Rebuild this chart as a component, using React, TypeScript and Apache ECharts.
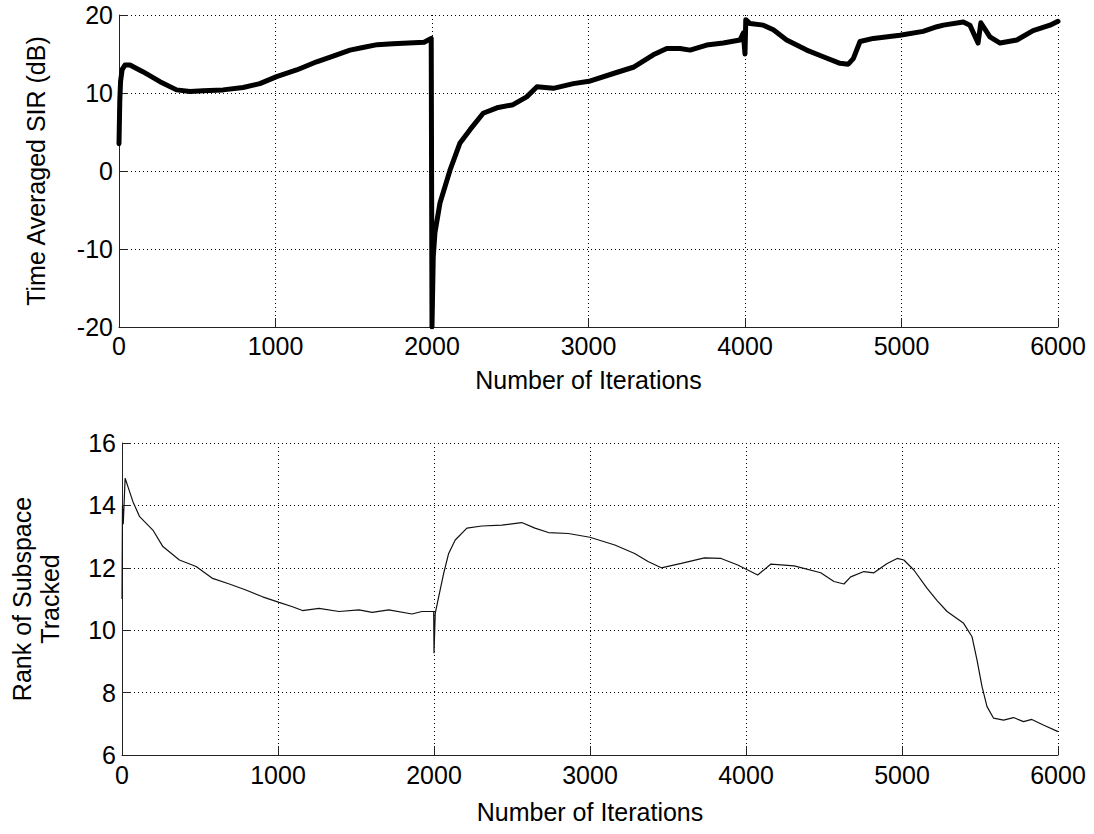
import React, { useEffect, useRef } from "react";
import * as echarts from "echarts";

// Top panel: time averaged SIR (dB) vs iteration (band centre)
const sirIter = [0, 5, 10, 20, 38, 70, 155, 262, 368, 454, 537, 665, 793, 900, 1007, 1135, 1263, 1391, 1476, 1550, 1650, 1750, 1850, 1950, 1995, 2000, 2004, 2008, 2019, 2051, 2115, 2179, 2243, 2327, 2415, 2518, 2605, 2671, 2775, 2903, 3003, 3159, 3286, 3414, 3500, 3585, 3649, 3755, 3861, 3968, 3989, 4000, 4005, 4032, 4117, 4181, 4266, 4394, 4500, 4607, 4660, 4692, 4735, 4820, 4990, 5138, 5227, 5268, 5395, 5437, 5489, 5507, 5565, 5630, 5737, 5841, 5949, 6000];
const sirValue = [3.5, 9, 11.5, 13, 13.6, 13.6, 12.7, 11.45, 10.4, 10.2, 10.3, 10.4, 10.7, 11.2, 12.1, 12.95, 14.0, 14.9, 15.5, 15.8, 16.2, 16.3, 16.4, 16.5, 17.0, -20, -15.4, -11, -7.9, -4.1, 0.1, 3.6, 5.3, 7.4, 8.1, 8.5, 9.5, 10.8, 10.6, 11.2, 11.5, 12.5, 13.3, 14.9, 15.7, 15.7, 15.5, 16.15, 16.4, 16.8, 17.7, 15, 19.4, 18.9, 18.7, 18.1, 16.8, 15.5, 14.65, 13.8, 13.7, 14.4, 16.6, 17.0, 17.4, 17.9, 18.5, 18.7, 19.1, 18.7, 16.4, 19.0, 17.2, 16.4, 16.8, 18.0, 18.7, 19.2];

// Bottom panel: rank of subspace tracked vs iteration
const rankIter = [0, 3, 8, 20, 38, 70, 113, 198, 262, 368, 475, 581, 688, 794, 901, 1007, 1093, 1157, 1263, 1391, 1519, 1604, 1710, 1859, 1923, 1998, 2000, 2008, 2030, 2062, 2094, 2136, 2211, 2307, 2435, 2562, 2647, 2733, 2861, 2999, 3159, 3286, 3372, 3457, 3585, 3734, 3840, 3947, 4075, 4160, 4309, 4479, 4564, 4628, 4671, 4756, 4820, 4905, 4969, 5012, 5076, 5161, 5225, 5289, 5395, 5449, 5481, 5513, 5545, 5587, 5651, 5715, 5779, 5832, 5906, 6000];
const rankValue = [11.0, 14.0, 13.4, 14.87, 14.6, 14.12, 13.64, 13.21, 12.68, 12.25, 12.04, 11.66, 11.48, 11.29, 11.07, 10.89, 10.75, 10.63, 10.70, 10.6, 10.65, 10.57, 10.65, 10.52, 10.6, 10.6, 9.26, 10.54, 11.07, 11.82, 12.46, 12.89, 13.27, 13.34, 13.37, 13.45, 13.27, 13.13, 13.1, 12.98, 12.73, 12.46, 12.2, 12.0, 12.14, 12.32, 12.3, 12.09, 11.77, 12.12, 12.06, 11.84, 11.56, 11.48, 11.71, 11.88, 11.84, 12.14, 12.3, 12.25, 11.93, 11.34, 10.95, 10.6, 10.22, 9.79, 9.04, 8.19, 7.55, 7.18, 7.12, 7.2, 7.07, 7.14, 6.96, 6.75];

const xTitle = "Number of Iterations";
const topYTitle = "Time Averaged SIR (dB)";
const bottomYTitle = "Rank of Subspace\nTracked";

const FONT = "'Liberation Sans', Arial, sans-serif";

export default function App() {
  const ref = useRef<HTMLDivElement>(null);
  useEffect(() => {
    document.body.style.margin = "0";
    if (!ref.current) return;
    const chart = echarts.init(ref.current, null, { renderer: "svg" });
    const axisLine = { show: true, onZero: false, lineStyle: { color: "#222", width: 1 } };
    const axisTick = { show: true, inside: true, length: 9, lineStyle: { color: "#222", width: 1 } };
    const splitLine = { show: true, lineStyle: { color: "#000", width: 1, type: [1, 3] as any } };
    const label = { color: "#000", fontSize: 25, fontFamily: FONT, formatter: (v: number) => String(v) };
    const nameStyle = { color: "#000", fontSize: 25, fontFamily: FONT };
    const xBase = (gi: number, gap: number, lm: number) => ({
      type: "value",
      gridIndex: gi,
      min: 0,
      max: 6000,
      interval: 1000,
      name: xTitle,
      nameLocation: "middle",
      nameGap: gap,
      nameTextStyle: nameStyle,
      axisLine,
      axisTick,
      splitLine,
      axisLabel: { ...label, margin: lm, showMinLabel: true, showMaxLabel: true },
    });
    chart.setOption({
      animation: false,
      backgroundColor: "#fff",
      grid: [
        { left: 119, top: 15, width: 939, height: 312 },
        { left: 119, top: 443, width: 939, height: 312 },
      ],
      xAxis: [xBase(0, 40, 6), xBase(1, 44, 7)],
      yAxis: [
        {
          type: "value",
          gridIndex: 0,
          min: -20,
          max: 20,
          interval: 10,
          name: topYTitle,
          nameLocation: "middle",
          nameRotate: 90,
          nameGap: 71,
          nameTextStyle: nameStyle,
          axisLine,
          axisTick,
          splitLine,
          axisLabel: { ...label, margin: 6 },
        },
        {
          type: "value",
          gridIndex: 1,
          min: 6,
          max: 16,
          interval: 2,
          name: bottomYTitle,
          nameLocation: "middle",
          nameRotate: 90,
          nameGap: 58,
          nameTextStyle: { ...nameStyle, lineHeight: 28 },
          axisLine,
          axisTick,
          splitLine,
          axisLabel: { ...label, margin: 6 },
        },
      ],
      series: [
        {
          type: "line",
          xAxisIndex: 0,
          yAxisIndex: 0,
          data: sirIter.map((x, i) => [x, sirValue[i]]),
          showSymbol: false,
          lineStyle: { color: "#000", width: 5, join: "round", cap: "round" },
          clip: true,
        },
        {
          type: "line",
          xAxisIndex: 1,
          yAxisIndex: 1,
          data: rankIter.map((x, i) => [x, rankValue[i]]),
          showSymbol: false,
          lineStyle: { color: "#111", width: 1.2 },
          clip: true,
        },
      ],
    });
    return () => chart.dispose();
  }, []);
  return <div ref={ref} style={{ width: 1094, height: 834 }} />;
}
